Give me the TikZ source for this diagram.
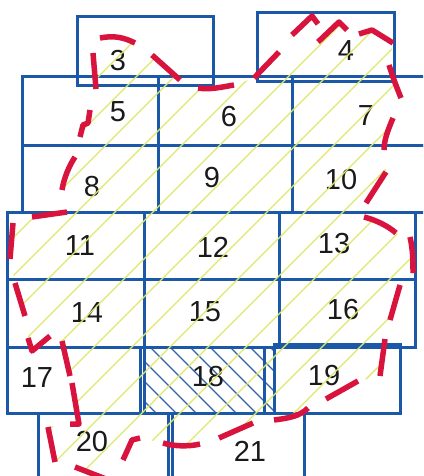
\documentclass[tikz,border=0pt]{standalone}
\usepackage{fontspec}
\setmainfont{Liberation Sans}
\definecolor{boxblue}{HTML}{1B58A8}
\definecolor{hatchblue}{HTML}{2F63A8}
\definecolor{redline}{HTML}{D8143E}
\definecolor{yellowline}{HTML}{E0E86A}
\definecolor{digit}{HTML}{1A1A1A}
\tikzset{
  plot/.style={draw=boxblue, line width=3pt},
  hatchline/.style={draw=hatchblue, line width=1.1pt},
  yline/.style={draw=yellowline, line width=1.4pt},
  rdash/.style={draw=redline, line width=5.5pt, line cap=butt, line join=round},
  num/.style={text=digit, font=\fontsize{29}{30}\selectfont, inner sep=0pt}
}
\begin{document}
\begin{tikzpicture}[x=1pt, y=-1pt]
\useasboundingbox (0,0) rectangle (423,476);
\clip (0,0) rectangle (423,476);
\fill[white] (0,0) rectangle (423,476);

% hatch of plot 18
\begin{scope}
  \clip (144,347) rectangle (274,413);
  \foreach \a in {50,70,...,290} \draw[hatchline] (\a,347) -- (\a+70,417);
\end{scope}

% plots
\draw[plot] (77,17) rectangle (213,86);
\draw[plot] (257,13) rectangle (394,82);
\draw[plot] (22,77) rectangle (158,145);
\draw[plot] (158,77) rectangle (292,145);
\draw[plot] (292,77) rectangle (440,145);
\draw[plot] (22,145) rectangle (158,212);
\draw[plot] (158,145) rectangle (292,212);
\draw[plot] (292,145) rectangle (440,212);
\draw[plot] (7,212) rectangle (144,279);
\draw[plot] (144,212) rectangle (279,279);
\draw[plot] (279,212) rectangle (415,279);
\draw[plot] (7,279) rectangle (144,347);
\draw[plot] (144,279) rectangle (279,347);
\draw[plot] (279,279) rectangle (415,347);
\draw[plot] (7,347) rectangle (140,413);
\draw[plot] (144,347) rectangle (274,413);
\draw[plot] (264,347) -- (264,413);
\draw[plot] (274,344) rectangle (400,413);
\draw[plot] (38,413) rectangle (168,495);
\draw[plot] (172,413) rectangle (304,495);

% numbers
\node[num] (n3)  at (118,61)  {3};
\node[num] (n4)  at (346,51)  {4};
\node[num] (n5)  at (118,112) {5};
\node[num] (n6)  at (229,117) {6};
\node[num] (n7)  at (366,116) {7};
\node[num] (n8)  at (92,187)  {8};
\node[num] (n9)  at (212,178) {9};
\node[num] (n10) at (341,180) {10};
\node[num] (n11) at (80,246)  {11};
\node[num] (n12) at (213,247) {12};
\node[num] (n13) at (334,244) {13};
\node[num] (n14) at (87,313)  {14};
\node[num] (n15) at (205,312) {15};
\node[num] (n16) at (343,310) {16};
\node[num] (n17) at (37,378)  {17};
\node[num] (n18) at (208,377) {18};
\node[num] (n19) at (324,376) {19};
\node[num] (n20) at (92,442)  {20};
\node[num] (n21) at (250,451) {21};

% yellow hatching inside the red boundary
\begin{scope}
  \clip (100,37) -- (135,43) -- (152,55) -- (180,80) -- (198,88) -- (234,85)
    -- (254,78) -- (279,52) -- (292,35) -- (310,18) -- (325,30) -- (339,22)
    -- (350,30) -- (359,34) -- (372,30) -- (393,43) -- (389,65) -- (401,98)
    -- (393,118) -- (384,150) -- (386,172) -- (366,203) -- (364,217) -- (396,233)
    -- (410,237) -- (413,273) -- (400,285) -- (390,320) -- (385,339) -- (380,376)
    -- (358,381) -- (326,399) -- (308,408) -- (274,420) -- (253,423) -- (219,438)
    -- (200,444) -- (163,443) -- (140,438) -- (132,440) -- (122,460) -- (108,480)
    -- (75,467) -- (55,462) -- (48,427) -- (70,424) -- (79,424) -- (72,383)
    -- (70,376) -- (62,341) -- (50,336) -- (32,351) -- (28,338) -- (25,316)
    -- (15,283) -- (10,259) -- (13,223) -- (32,217) -- (67,212) -- (62,190)
    -- (75,157) -- (80,137) -- (90,110) -- (96,89) -- (93,53) -- cycle;
  \foreach \c in {23,61,...,950} \draw[yline] (\c,0) -- (\c-500,500);
\end{scope}

% red dashed boundary (hand drawn)
\draw[rdash] (100,38) .. controls (115,35) and (125,38) .. (135,43);
\draw[rdash] (152,55) -- (180,80);
\draw[rdash] (198,88) .. controls (210,90) and (222,87) .. (234,85);
\draw[rdash] (254,78) -- (279,52);
\draw[rdash] (292,35) -- (312,16) -- (318,24);
\draw[rdash] (318,42) -- (339,22) -- (347,30);
\draw[rdash] (359,34) -- (372,30) -- (393,43);
\draw[rdash] (389,65) .. controls (393,78) and (397,88) .. (401,98);
\draw[rdash] (393,118) .. controls (388,130) and (384,140) .. (384,150);
\draw[rdash] (386,172) -- (366,203);
\draw[rdash] (364,217) .. controls (376,220) and (388,226) .. (396,233);
\draw[rdash] (410,237) .. controls (413,250) and (413,262) .. (413,273);
\draw[rdash] (400,285) -- (390,320);
\draw[rdash] (385,339) -- (380,376);
\draw[rdash] (358,381) -- (326,399);
\draw[rdash] (308,408) .. controls (300,416) and (290,418) .. (274,420);
\draw[rdash] (253,423) -- (219,438);
\draw[rdash] (163,443) .. controls (172,446) and (188,447) .. (200,444);
\draw[rdash] (140,438) -- (132,440) -- (123,460);
\draw[rdash] (75,467) -- (106,479);
\draw[rdash] (48,427) -- (55,462);
\draw[rdash] (72,383) -- (79,424) -- (70,424);
\draw[rdash] (62,341) -- (70,376);
\draw[rdash] (50,336) -- (32,351) -- (28,338);
\draw[rdash] (25,316) -- (15,283);
\draw[rdash] (10,259) -- (13,223);
\draw[rdash] (32,217) -- (67,212);
\draw[rdash] (62,190) .. controls (64,178) and (69,166) .. (75,157);
\draw[rdash] (80,137) -- (83,125) -- (88,123) -- (90,110);
\draw[rdash] (96,89) -- (93,53);
\end{tikzpicture}
\end{document}
